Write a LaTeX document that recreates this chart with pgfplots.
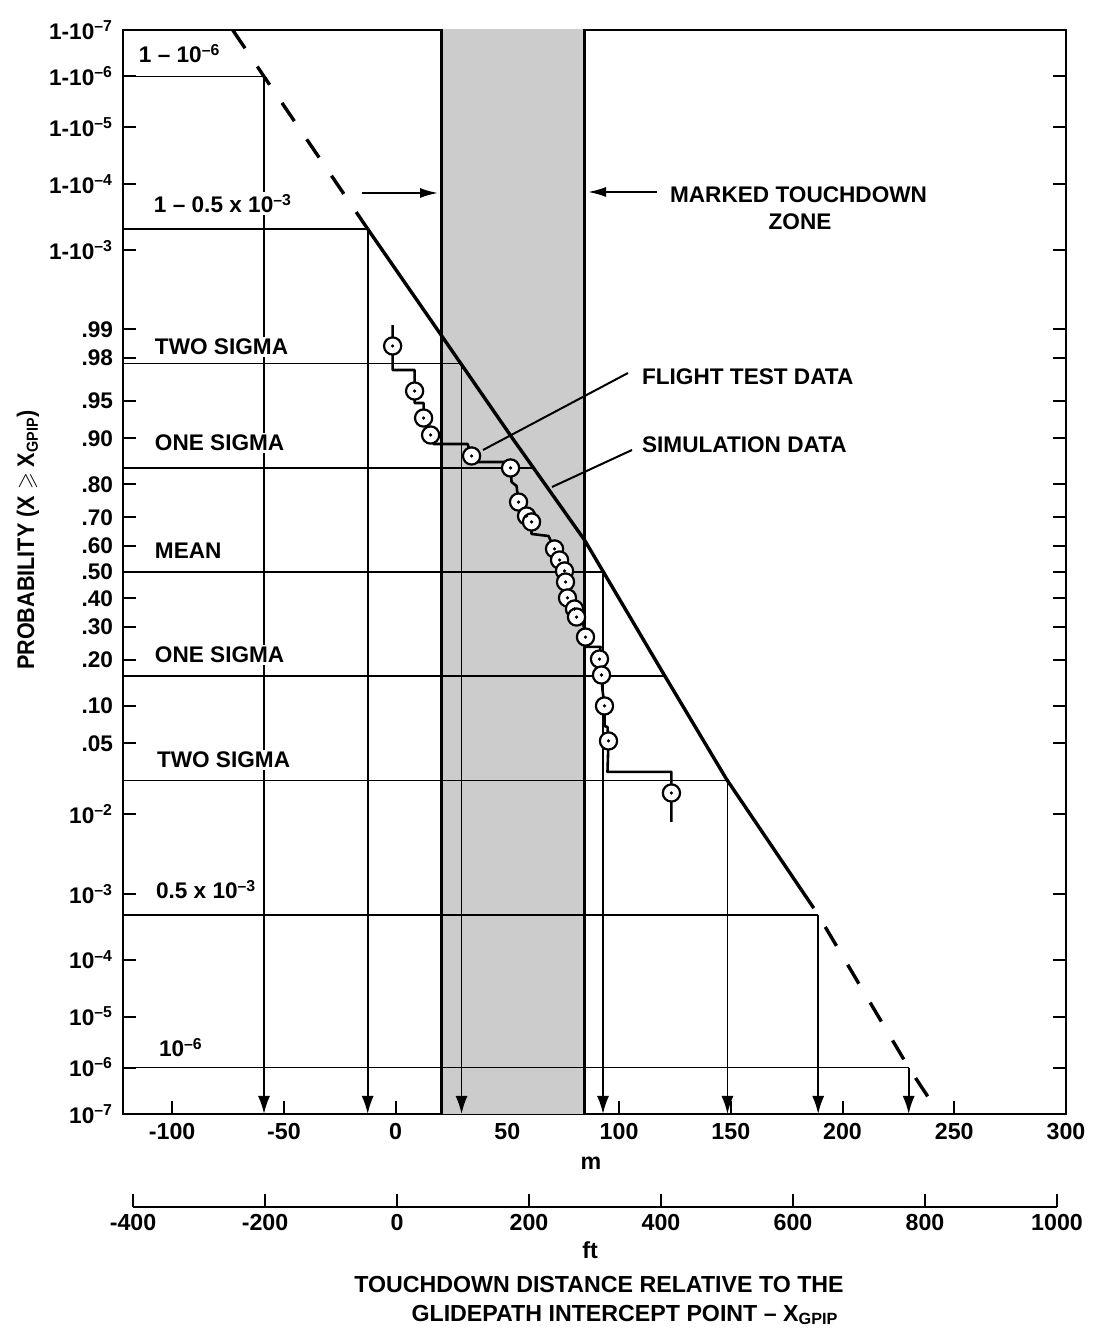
\documentclass[border=0pt]{standalone}
\usepackage{pgfplots}
\pgfplotsset{compat=1.18}
\usepackage{graphicx}
\usepackage{amsmath}
\usepackage{amssymb}
\usepackage{fontspec}
\setmainfont{Liberation Sans}
\usetikzlibrary{arrows.meta}
\newcommand{\sx}[1]{\textsuperscript{–#1}}
\newcommand{\lab}{\bfseries\fontsize{11.3}{13}\selectfont}
\begin{document}
\begin{tikzpicture}
\begin{scope}[shift={(-61.5pt,557pt)},x=0.5pt,y=-0.5pt]
\path[use as bounding box] (0,0) rectangle (1087,1332);
\end{scope}
\begin{axis}[at={(0,0)}, anchor=south west, scale only axis,
  width=471.5pt, height=542pt,
  xmin=-122, xmax=300, ymin=-5.1993, ymax=5.1993,
  xtick={-100,-50,0,50,100,150,200,250,300},
  xticklabels={-100,-50,0,50,100,150,200,250,300},
  xtick pos=left, ytick pos=both,
  ytick={-5.1993,-4.7534,-4.2649,-3.7190,-3.0902,-2.3263,-1.6449,-1.2816,-0.8416,-0.5244,-0.2533,0,0.2533,0.5244,0.8416,1.2816,1.6449,2.0537,2.3263,3.0902,3.7190,4.2649,4.7534,5.1993},
  yticklabels={10\sx{7},10\sx{6},10\sx{5},10\sx{4},10\sx{3},10\sx{2},.05,.10,.20,.30,.40,.50,.60,.70,.80,.90,.95,.98,.99,1-10\sx{3},1-10\sx{4},1-10\sx{5},1-10\sx{6},1-10\sx{7}},
  tick align=inside, major tick length=6.5pt,
  axis line style={line width=1.3pt},
  tick style={line width=1pt, black},
  yticklabel style={font=\bfseries\fontsize{11.3}{12}\selectfont, xshift=-1.5pt},
  xticklabel style={font=\bfseries\fontsize{11.6}{13}\selectfont, yshift=-1pt},
]
% marked touchdown zone
\addplot[fill=black!20, draw=none] coordinates {(20.6,-5.3) (84.5,-5.3) (84.5,5.3) (20.6,5.3)} \closedcycle;
% horizontal reference lines
\addplot[line width=0.9pt] coordinates {(-122,4.7534) (-58.9,4.7534)};
\addplot[line width=0.9pt] coordinates {(-122,3.2905) (-12.5,3.2905)};
\addplot[line width=0.9pt] coordinates {(-122,2) (29.5,2)};
\addplot[line width=0.9pt] coordinates {(-122,1) (61,1)};
\addplot[line width=0.9pt] coordinates {(-122,0) (92.8,0)};
\addplot[line width=0.9pt] coordinates {(-122,-1) (120.5,-1)};
\addplot[line width=0.9pt] coordinates {(-122,-2) (148.5,-2)};
\addplot[line width=0.9pt] coordinates {(-122,-3.2905) (189.1,-3.2905)};
\addplot[line width=0.9pt] coordinates {(-122,-4.7534) (229.6,-4.7534)};
% vertical arrows
\addplot[line width=0.9pt, -{Latex[length=9pt,width=6pt]}] coordinates {(-58.9,4.7534) (-58.9,-5.1993)};
\addplot[line width=0.9pt, -{Latex[length=9pt,width=6pt]}] coordinates {(-12.5,3.2905) (-12.5,-5.1993)};
\addplot[line width=0.9pt, -{Latex[length=9pt,width=6pt]}] coordinates {(29.5,2) (29.5,-5.1993)};
\addplot[line width=0.9pt, -{Latex[length=9pt,width=6pt]}] coordinates {(92.8,0) (92.8,-5.1993)};
\addplot[line width=0.9pt, -{Latex[length=9pt,width=6pt]}] coordinates {(148.5,-2) (148.5,-5.1993)};
\addplot[line width=0.9pt, -{Latex[length=9pt,width=6pt]}] coordinates {(189.1,-3.2905) (189.1,-5.1993)};
\addplot[line width=0.9pt, -{Latex[length=9pt,width=6pt]}] coordinates {(229.6,-4.7534) (229.6,-5.1993)};
% zone borders
\addplot[line width=1.5pt] coordinates {(20.6,-5.3) (20.6,5.3)};
\addplot[line width=1.5pt] coordinates {(84.5,-5.3) (84.5,5.3)};
% simulation data
\addplot[line width=1.7pt, dash pattern=on 11pt off 11pt] coordinates {(-72.9,5.199) (-58.9,4.7534) (-12.5,3.2905)};
\addplot[line width=1.7pt, line join=round] coordinates {(-12.5,3.2905) (21.91,2.225) (51.88,1.295) (84.53,0.307) (119.41,-0.959) (148.03,-1.986) (181.6,-3.050)};
\addplot[line width=1.7pt, dash pattern=on 11pt off 11pt] coordinates {(181.6,-3.050) (188.28,-3.261) (229.43,-4.748) (243.29,-5.199)};
% flight test data staircase
\addplot[line width=1.3pt, line join=round] coordinates {
(-1.34,2.369) (-1.34,2.168) (-1.34,1.938) (8.50,1.938) (8.50,1.736) (8.50,1.621) (12.52,1.621) (12.52,1.477)
(15.65,1.314) (17.0,1.228) (32.2,1.228) (33.99,1.113) (36.23,1.055) (48.75,1.055) (51.43,0.998) (51.88,0.863)
(54.11,0.825) (55.01,0.671) (58.59,0.537) (60.82,0.480) (60.82,0.365) (68.43,0.345) (71.11,0.221) (73.35,0.115)
(75.58,0.010) (76.03,-0.096) (76.92,-0.249) (80.05,-0.355) (80.95,-0.432) (84.08,-0.508) (84.97,-0.624)
(84.97,-0.719) (91.68,-0.719) (91.23,-0.835) (92.13,-0.988) (92.58,-1.132) (93.47,-1.285) (93.47,-1.477)
(94.81,-1.487) (95.26,-1.621) (94.81,-1.918) (123.43,-1.918) (123.43,-2.120) (123.43,-2.398)};
% flight test data points
\addplot[only marks, mark=*, mark size=4.3pt, mark options={fill=white, draw=black, line width=1.1pt}] coordinates {
(-1.34,2.168) (8.50,1.736) (12.52,1.477) (15.65,1.314) (33.99,1.113) (51.43,0.998) (55.01,0.671) (58.59,0.537)
(60.82,0.480) (71.11,0.221) (73.35,0.115) (75.58,0.010) (76.03,-0.096) (76.92,-0.249) (80.05,-0.355) (80.95,-0.432)
(84.97,-0.624) (91.23,-0.835) (92.13,-0.988) (93.47,-1.285) (95.26,-1.621) (123.43,-2.120)};
\addplot[only marks, mark=*, mark size=0.6pt] coordinates {
(-1.34,2.168) (8.50,1.736) (12.52,1.477) (15.65,1.314) (33.99,1.113) (51.43,0.998) (55.01,0.671) (58.59,0.537)
(60.82,0.480) (71.11,0.221) (73.35,0.115) (75.58,0.010) (76.03,-0.096) (76.92,-0.249) (80.05,-0.355) (80.95,-0.432)
(84.97,-0.624) (91.23,-0.835) (92.13,-0.988) (93.47,-1.285) (95.26,-1.621) (123.43,-2.120)};
\end{axis}
% feet scale
\begin{axis}[at={(5pt,-46.5pt)}, anchor=south west, scale only axis,
  width=462pt, height=10pt, xmin=-400, xmax=1000, ymin=0, ymax=1,
  hide y axis, axis x line=bottom, x axis line style={-, line width=1.3pt},
  xtick={-400,-200,0,200,400,600,800,1000},
  xticklabels={-400,-200,0,200,400,600,800,1000},
  tick align=inside, major tick length=6.5pt, tick style={line width=1pt, black},
  xticklabel style={font=\bfseries\fontsize{11.6}{13}\selectfont},
]
\addplot[draw=none] coordinates {(0,0.5)};
\end{axis}
% annotations
\begin{scope}[shift={(-61.5pt,557pt)},x=0.5pt,y=-0.5pt]
\tikzset{lbl/.style={anchor=base west, font=\lab, fill=white, inner sep=1pt, outer sep=0pt}}
\node[lbl] at (137,63) {1 – 10\sx{6}};
\node[lbl] at (152,213) {1 – 0.5 x 10\sx{3}};
\node[lbl] at (153,355) {TWO SIGMA};
\node[lbl] at (153,451) {ONE SIGMA};
\node[lbl] at (153,559) {MEAN};
\node[lbl] at (153,663) {ONE SIGMA};
\node[lbl] at (155,768) {TWO SIGMA};
\node[lbl] at (154,899) {0.5 x 10\sx{3}};
\node[lbl] at (157,1057) {10\sx{6}};
\node[anchor=base west, font=\lab] at (663,203) {MARKED TOUCHDOWN};
\node[anchor=base, font=\lab] at (800,230) {ZONE};
\node[anchor=base west, font=\lab] at (635,385) {FLIGHT TEST DATA};
\node[anchor=base west, font=\lab] at (635,453) {SIMULATION DATA};
\draw[line width=1pt] (628,373) -- (483,450);
\draw[line width=1pt] (632,450) -- (552,487);
\draw[line width=0.9pt, -{Latex[length=9pt,width=5pt]}] (362,193) -- (438,193);
\draw[line width=0.9pt, -{Latex[length=9pt,width=5pt]}] (657,192) -- (588,192);
\node[rotate=90, font=\bfseries\fontsize{12}{13}\selectfont] at (28,540) {\scalebox{0.9}[1]{PROBABILITY (X $\boldsymbol{\geqslant}$ X\textsubscript{GPIP})}};
\node[anchor=base, font=\bfseries\fontsize{11.6}{13}\selectfont] at (591,1169) {m};
\node[anchor=base, font=\bfseries\fontsize{11.6}{13}\selectfont] at (590,1258) {ft};
\node[anchor=base, font=\bfseries\fontsize{11.6}{13}\selectfont] at (599,1292) {TOUCHDOWN DISTANCE RELATIVE TO THE};
\node[anchor=base, font=\bfseries\fontsize{11.6}{13}\selectfont] at (625,1321) {GLIDEPATH INTERCEPT POINT – X\textsubscript{GPIP}};
\end{scope}
\end{tikzpicture}
\end{document}
